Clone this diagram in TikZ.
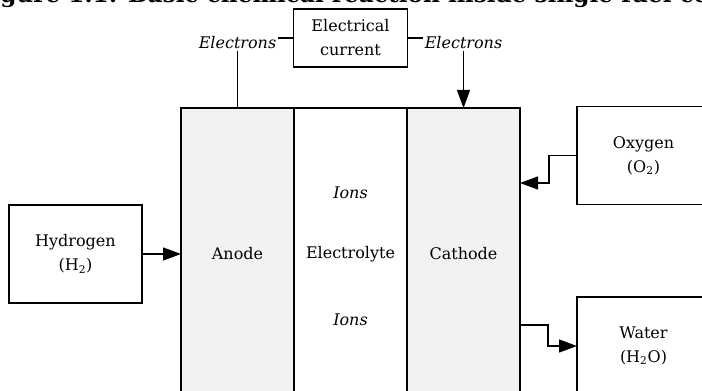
\documentclass[tikz,border=0pt]{standalone}
\usepackage{fontspec}
\setmainfont{DejaVu Serif}
\usetikzlibrary{arrows.meta,positioning}
\definecolor{electrode}{HTML}{F2F2F2}

\begin{document}
\begin{tikzpicture}[
  x=0.75pt, y=-0.75pt,
  font=\fontsize{12pt}{18pt}\selectfont,
  layer/.style={draw, line width=0.9pt, outer sep=0pt, align=center, minimum width=84.75pt, minimum height=219pt},
  feed/.style={draw, line width=0.9pt, outer sep=0pt, align=center, minimum width=99.75pt, minimum height=73.5pt, fill=white},
  tag/.style={font=\fontsize{12pt}{18pt}\selectfont\itshape, inner sep=1pt},
  wire/.style={line width=0.9pt},
  arrow/.style={-{Triangle[length=13.5pt, width=9.75pt]}, line width=0.9pt}
]

\useasboundingbox (0,0) rectangle (702,391);
\clip (0,0) rectangle (702,391);

\node[anchor=base west, inner sep=0pt, font=\bfseries\fontsize{17.4pt}{19pt}\selectfont] (title) at (0,2.5)
  {\llap{Fi}gure 1.1: Basic chemical reaction inside single fuel cell};

% the cell
\node[layer, fill=electrode] (anode) at (237.5,254) {Anode};
\node[layer, fill=white, right=0pt of anode] (electrolyte) {Electrolyte};
\node[layer, fill=electrode, right=0pt of electrolyte] (cathode) {Cathode};
\node[tag] (ionsup) at (350.5,193) {Ions};
\node[tag] (ionsdown) at (350.5,320) {Ions};

% external circuit
\node[draw, line width=0.9pt, outer sep=0pt, align=center, minimum width=85.5pt, minimum height=43.5pt,
  above=30.75pt of electrolyte] (current) {Electrical\\current};
\node[tag] (electronsL) at (237.5,43) {Electrons};
\node[tag] (electronsR) at (463.5,43) {Electrons};
\draw[wire] (current.west) -- (current.west -| electronsL.east);
\draw[wire] (current.east) -- (current.east -| electronsR.west);
\draw[wire] (electronsL) -- (anode);
\draw[arrow] (electronsR) -- (cathode);

% gases in and out
\node[feed, left=29.25pt of anode] (hydrogen) {Hydrogen\\(H\textsubscript{2})};
\node[feed] (oxygen) at (643.5,155.5) {Oxygen\\(O\textsubscript{2})};
\node[feed] (water) at (643.5,346) {Water\\(H\textsubscript{2}O)};
\coordinate (o2in) at ([yshift=53.25pt]cathode.east);
\coordinate (h2oout) at ([yshift=-53.25pt]cathode.east);

\draw[arrow] (hydrogen) -- (anode);
\draw[arrow] (oxygen.west) -- ++(-28,0) |- (o2in);
\draw[arrow] (h2oout) -- ++(28,0) |- (water.west);

\end{tikzpicture}
\end{document}
